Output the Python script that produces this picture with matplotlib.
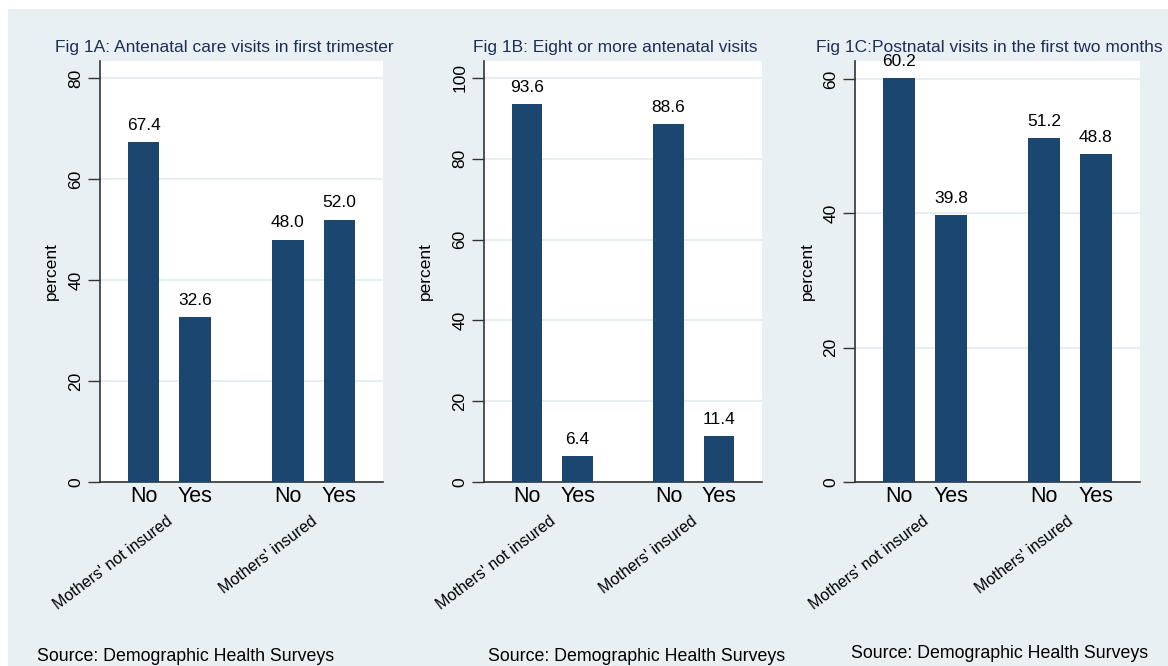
import numpy as np
import matplotlib.pyplot as plt
from matplotlib.patches import Rectangle

plt.rcParams['font.family'] = ['Liberation Sans', 'DejaVu Sans']

titles = ['Fig 1A: Antenatal care visits in first trimester',
          'Fig 1B: Eight or more antenatal visits',
          'Fig 1C:Postnatal visits in the first two months']
values_1a = [67.4, 32.6, 48.0, 52.0]
values_1b = [93.6, 6.4, 88.6, 11.4]
values_1c = [60.2, 39.8, 51.2, 48.8]
bar_labels = ['No', 'Yes', 'No', 'Yes']
groups = ["Mothers' not insured", "Mothers' insured"]
yticks_list = [[0, 20, 40, 60, 80], [0, 20, 40, 60, 80, 100], [0, 20, 40, 60]]
ymax_list = [83.4, 104.2, 62.7]
source = 'Source: Demographic Health Surveys'

bar_color = '#1b4670'
bg_color = '#e9f0f3'
grid_color = '#e6eef1'
title_color = '#1f2e55'

W, H = 1168, 666
fig = plt.figure(figsize=(W / 100, H / 100), dpi=100)
fig.patches.append(Rectangle((8 / W, 0), 1, 1 - 9 / H, transform=fig.transFigure,
                             facecolor=bg_color, edgecolor='none', zorder=-10))

def px(x, y):
    return x / W, 1 - y / H

# axes boxes in pixels: left, right
boxes = [(100, 383), (484, 762), (855, 1140)]
title_x = [55, 473, 816]
ylabel_x = [51, 425, 807]
source_pos = [(37, 661), (488, 661), (851, 658)]
top_px, bot_px = 61, 482

xpos = np.array([0, 1, 2.8, 3.8])
group_x = [(xpos[0] + xpos[1]) / 2, (xpos[2] + xpos[3]) / 2]

all_values = [values_1a, values_1b, values_1c]

for i in range(3):
    l, r = boxes[i]
    ax = fig.add_axes([l / W, 1 - bot_px / H, (r - l) / W, (bot_px - top_px) / H])
    ax.set_facecolor('white')
    vals = all_values[i]
    ax.bar(xpos, vals, width=0.61, color=bar_color, zorder=3)
    for x, v in zip(xpos, vals):
        ax.text(x, v + ymax_list[i] * 0.022, f'{v:.1f}', ha='center', va='bottom',
                fontsize=12.5, color='black', zorder=4)
    ax.set_ylim(0, ymax_list[i])
    ax.set_xlim(-0.85, 4.65)
    ax.set_yticks(yticks_list[i])
    ax.set_yticklabels([str(t) for t in yticks_list[i]], rotation=90, va='center', fontsize=12.5)
    ax.grid(axis='y', color=grid_color, linewidth=1.5, zorder=0)
    ax.set_xticks(xpos)
    ax.set_xticklabels(bar_labels, fontsize=15.5)
    ax.tick_params(axis='x', length=0, pad=3)
    ax.tick_params(axis='y', length=9, width=1, color='#333333', pad=3)
    for s in ['top', 'right']:
        ax.spines[s].set_visible(False)
    for s in ['left', 'bottom']:
        ax.spines[s].set_color('#333333')
        ax.spines[s].set_linewidth(1.2)
    for gx, g in zip(group_x, groups):
        ax.text(gx - 0.06, -0.074, g, transform=ax.get_xaxis_transform(),
                rotation=37, rotation_mode='anchor', ha='right', va='top', fontsize=11.5)
    tx, ty = px(title_x[i], 52)
    fig.text(tx, ty, titles[i], ha='left', va='baseline', fontsize=12.5, color=title_color)
    lx, ly = px(ylabel_x[i], (top_px + bot_px) / 2)
    fig.text(lx, ly, 'percent', rotation=90, ha='center', va='center', fontsize=12.5)
    sx, sy = px(*source_pos[i])
    fig.text(sx, sy, source, ha='left', va='baseline', fontsize=12.8)

fig.savefig('out.png', dpi=100, facecolor='white')
